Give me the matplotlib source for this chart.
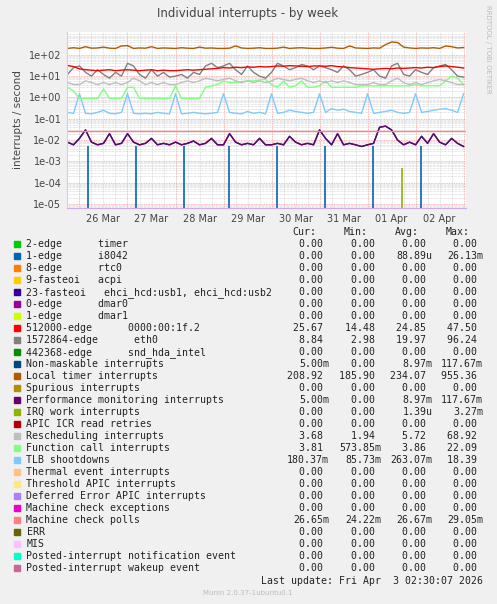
import numpy as np
import matplotlib
matplotlib.use('Agg')
import matplotlib.pyplot as plt
from matplotlib.patches import Rectangle

# x in days since 25 Mar 00:00, samples every 3 hours from 25 Mar 18:00
t = 0.75 + 0.125 * np.arange(67)

local_timer = [200, 215,
    200, 240, 205, 210, 230, 205, 200, 260,
    270, 200, 210, 205, 240, 200, 210, 205,
    200, 215, 205, 200, 230, 205, 210, 200,
    200, 205, 260, 210, 200, 205, 215, 200,
    200, 205, 230, 200, 210, 215, 205, 200,
    200, 210, 225, 205, 200, 260, 210, 205,
    200, 210, 205, 300, 400, 380, 230, 210,
    200, 210, 205, 215, 200, 260, 240, 210,
    220]
edge512000 = [32, 28,
    22, 20, 19, 18, 19, 20, 18, 19,
    20, 19, 18, 19, 20, 18, 19, 18,
    18, 19, 20, 19, 20, 21, 22, 23,
    25, 24, 26, 25, 27, 26, 28, 27,
    28, 30, 29, 31, 30, 29, 28, 30,
    30, 29, 31, 28, 27, 25, 24, 23,
    22, 21, 22, 23, 22, 24, 23, 24,
    25, 24, 26, 25, 28, 30, 28, 26,
    24]
eth0 = [12, 25,
    30, 15, 10, 20, 12, 8, 15, 10,
    40, 30, 12, 8, 20, 10, 15, 9,
    10, 12, 8, 15, 12, 30, 40, 25,
    30, 40, 20, 12, 30, 15, 10, 8,
    15, 40, 30, 20, 25, 35, 30, 20,
    30, 25, 20, 15, 30, 20, 10, 12,
    15, 20, 10, 8, 30, 40, 12, 10,
    20, 15, 12, 25, 30, 35, 20, 10,
    9]
resched = [5, 4,
    4, 6, 5, 4, 5, 4, 5, 4,
    5, 8, 6, 4, 5, 4, 5, 4,
    4, 5, 6, 5, 6, 8, 7, 6,
    7, 8, 6, 5, 6, 5, 6, 5,
    6, 8, 7, 6, 7, 8, 6, 5,
    6, 5, 6, 5, 6, 5, 4, 4,
    4, 5, 4, 4, 6, 8, 5, 4,
    5, 4, 5, 6, 7, 6, 5, 4,
    4]
func_call = [3, 2,
    0.9, 0.9, 0.9, 0.9, 2.5, 0.9, 0.9, 0.9,
    3, 3, 0.9, 0.9, 0.9, 0.9, 0.9, 0.9,
    3.5, 0.9, 0.9, 0.9, 0.9, 3, 3.5, 4,
    6, 5, 5, 5.5, 6, 6, 6.5, 7,
    4, 3, 6, 3, 3.5, 6, 3, 3,
    3.5, 6, 3, 3, 3, 3, 3, 3.5,
    3.5, 3.5, 3.5, 3.5, 3.5, 3.5, 3.5, 3.5,
    4, 3.5, 3.5, 3.5, 3.5, 6, 10, 8,
    4]
tlb = [0.2, 0.18,
    1.5, 0.18, 0.17, 0.2, 0.25, 0.18, 0.17, 0.2,
    1.5, 0.18, 0.17, 0.18, 0.17, 0.2, 0.18, 0.17,
    1.5, 0.17, 0.18, 0.2, 0.18, 0.17, 0.18, 0.2,
    1.5, 0.2, 0.18, 0.17, 0.22, 0.18, 0.2, 0.17,
    1.5, 0.18, 0.2, 0.25, 0.22, 0.2, 0.18, 0.2,
    1.5, 0.2, 0.3, 0.25, 0.28, 0.22, 0.2, 0.18,
    1.5, 0.18, 0.2, 0.22, 0.25, 0.2, 0.18, 0.2,
    1.5, 0.2, 0.22, 0.25, 0.28, 0.3, 0.25, 0.2,
    1.5]
perf_mon = [0.008, 0.006,
    0.012, 0.03, 0.008, 0.006, 0.007, 0.02, 0.006, 0.007,
    0.02, 0.008, 0.006, 0.007, 0.012, 0.006, 0.007, 0.006,
    0.008, 0.006, 0.007, 0.009, 0.006, 0.007, 0.012, 0.006,
    0.006, 0.02, 0.008, 0.006, 0.007, 0.006, 0.012, 0.006,
    0.006, 0.007, 0.006, 0.015, 0.008, 0.006, 0.007, 0.006,
    0.03, 0.012, 0.006, 0.02, 0.006, 0.007, 0.006, 0.005,
    0.006, 0.007, 0.04, 0.045, 0.03, 0.01, 0.006, 0.008,
    0.006, 0.015, 0.007, 0.02, 0.008, 0.006, 0.012, 0.007,
    0.005]
mc_polls = 0.02665
i8042_t = [1.18, 2.18, 3.18, 4.12, 5.12, 6.12, 7.12, 8.12]
i8042_v = [5e-3] * 8
irqwork_t = [7.71]
irqwork_v = [5e-4]

day_ticks = [1.5, 2.5, 3.5, 4.5, 5.5, 6.5, 7.5, 8.5]
day_labels = ['26 Mar', '27 Mar', '28 Mar', '29 Mar', '30 Mar', '31 Mar', '01 Apr', '02 Apr']

legend = [
    ('#00CC00', '2-edge      timer', '0.00 ', '0.00 ', '0.00 ', '0.00 '),
    ('#0066B3', '1-edge      i8042', '0.00 ', '0.00 ', '88.89u', '26.13m'),
    ('#FF8000', '8-edge      rtc0', '0.00 ', '0.00 ', '0.00 ', '0.00 '),
    ('#FFCC00', '9-fasteoi   acpi', '0.00 ', '0.00 ', '0.00 ', '0.00 '),
    ('#330099', '23-fasteoi   ehci_hcd:usb1, ehci_hcd:usb2', '0.00 ', '0.00 ', '0.00 ', '0.00 '),
    ('#990099', '0-edge      dmar0', '0.00 ', '0.00 ', '0.00 ', '0.00 '),
    ('#CCFF00', '1-edge      dmar1', '0.00 ', '0.00 ', '0.00 ', '0.00 '),
    ('#FF0000', '512000-edge      0000:00:1f.2', '25.67 ', '14.48 ', '24.85 ', '47.50 '),
    ('#808080', '1572864-edge      eth0', '8.84 ', '2.98 ', '19.97 ', '96.24 '),
    ('#008F00', '442368-edge      snd_hda_intel', '0.00 ', '0.00 ', '0.00 ', '0.00 '),
    ('#00487D', 'Non-maskable interrupts', '5.00m', '0.00 ', '8.97m', '117.67m'),
    ('#B35A00', 'Local timer interrupts', '208.92 ', '185.90 ', '234.07 ', '955.36 '),
    ('#B38F00', 'Spurious interrupts', '0.00 ', '0.00 ', '0.00 ', '0.00 '),
    ('#6B006B', 'Performance monitoring interrupts', '5.00m', '0.00 ', '8.97m', '117.67m'),
    ('#8FB300', 'IRQ work interrupts', '0.00 ', '0.00 ', '1.39u', '3.27m'),
    ('#B30000', 'APIC ICR read retries', '0.00 ', '0.00 ', '0.00 ', '0.00 '),
    ('#BEBEBE', 'Rescheduling interrupts', '3.68 ', '1.94 ', '5.72 ', '68.92 '),
    ('#80FF80', 'Function call interrupts', '3.81 ', '573.85m', '3.86 ', '22.09 '),
    ('#80C9FF', 'TLB shootdowns', '180.37m', '85.73m', '263.07m', '18.39 '),
    ('#FFC080', 'Thermal event interrupts', '0.00 ', '0.00 ', '0.00 ', '0.00 '),
    ('#FFE680', 'Threshold APIC interrupts', '0.00 ', '0.00 ', '0.00 ', '0.00 '),
    ('#AA80FF', 'Deferred Error APIC interrupts', '0.00 ', '0.00 ', '0.00 ', '0.00 '),
    ('#EE00CC', 'Machine check exceptions', '0.00 ', '0.00 ', '0.00 ', '0.00 '),
    ('#FF8080', 'Machine check polls', '26.65m', '24.22m', '26.67m', '29.05m'),
    ('#666600', 'ERR', '0.00 ', '0.00 ', '0.00 ', '0.00 '),
    ('#FFBFFF', 'MIS', '0.00 ', '0.00 ', '0.00 ', '0.00 '),
    ('#00FFCC', 'Posted-interrupt notification event', '0.00 ', '0.00 ', '0.00 ', '0.00 '),
    ('#CC6699', 'Posted-interrupt wakeup event', '0.00 ', '0.00 ', '0.00 ', '0.00 '),
]

W, H = 497, 604
fig = plt.figure(figsize=(W / 100, H / 100), dpi=100, facecolor='#F0F0F0')
ax = fig.add_axes([67 / W, 1 - 208 / H, 399 / W, 176 / H], facecolor='white')
ymin, ymax = 6.5e-6, 1175

ax.set_yscale('log')
ax.set_xlim(0.74, 9.05)
ax.set_ylim(ymin, ymax)
ax.grid(True, which='minor', axis='y', color='#cccccc', ls=(0, (1, 1)), lw=0.5)
ax.grid(True, which='major', axis='y', color='#ff9999', ls=(0, (1, 1)), lw=0.6)
for d in np.arange(1, 9.01, 0.25):
    major = abs(d - round(d)) < 1e-6
    ax.axvline(d, color='#ff9999' if major else '#cccccc', ls=(0, (1, 1)), lw=0.6 if major else 0.5, zorder=0)

ax.vlines(i8042_t, ymin, i8042_v, color='#0066B3', lw=1.2)
ax.vlines(irqwork_t, ymin, irqwork_v, color='#8FB300', lw=1.2)
ax.plot(t, perf_mon, color='#00487D', lw=1)
ax.plot(t, perf_mon, color='#6B006B', lw=1)
ax.axhline(mc_polls, color='#FF8080', lw=1)
ax.plot(t, tlb, color='#80C9FF', lw=1)
ax.plot(t, func_call, color='#80FF80', lw=1)
ax.plot(t, resched, color='#BEBEBE', lw=1)
ax.plot(t, eth0, color='#808080', lw=1)
ax.plot(t, edge512000, color='#FF0000', lw=1)
ax.plot(t, local_timer, color='#B35A00', lw=1)

ax.set_xticks(day_ticks)
ax.set_xticklabels(day_labels)
ax.set_yticks([10.0 ** k for k in range(-5, 3)])
ax.set_yticklabels(['1e-05', '1e-04', '1e-03', '1e-02', '1e-01', '1e+00', '1e+01', '1e+02'])
ax.tick_params(axis='both', which='both', length=0, labelsize=7, colors='#444444', pad=4)
ax.minorticks_on()
ax.tick_params(axis='x', which='minor', length=0)
ax.tick_params(axis='y', which='minor', length=0, labelleft=False)
for s in ['top', 'right']:
    ax.spines[s].set_visible(False)
ax.spines['left'].set_color('#ccccff')
ax.spines['bottom'].set_color('#ccaaee')
ax.set_ylabel('interrupts / second', fontsize=7.5, color='#444444')

fig.text(248 / W, 1 - 14 / H, 'Individual interrupts - by week', ha='center', va='center',
         fontsize=8.5, color='#444444')
fig.text(488 / W, 1 - 5 / H, 'RRDTOOL / TOBI OETIKER', rotation=-90, ha='center', va='top',
         fontsize=5, color='#bbbbbb')

mono = dict(family='DejaVu Sans Mono', fontsize=7.1, color='#222222', va='center')
for x, h in [(316, 'Cur:'), (368, 'Min:'), (419, 'Avg:'), (470, 'Max:')]:
    fig.text(x / W, 1 - 232 / H, h, ha='right', **mono)
for i, (c, name, cur, mn, avg, mx) in enumerate(legend):
    y = 244.3 + 12 * i
    fig.patches.append(Rectangle((14 / W, 1 - (y + 3) / H), 6 / W, 6 / H, color=c,
                                 transform=fig.transFigure, figure=fig))
    fig.text(26.5 / W, 1 - y / H, name, ha='left', **mono)
    for x, v in [(329, cur), (381, mn), (432.5, avg), (483, mx)]:
        fig.text(x / W, 1 - y / H, v, ha='right', **mono)
fig.text(483 / W, 1 - 580.7 / H, 'Last update: Fri Apr  3 02:30:07 2026', ha='right', **mono)
fig.text(248 / W, 1 - 593 / H, 'Munin 2.0.37-1ubuntu0.1', ha='center', va='center',
         fontsize=5, color='#bbbbbb')

fig.savefig('out.png', dpi=100, facecolor=fig.get_facecolor())
